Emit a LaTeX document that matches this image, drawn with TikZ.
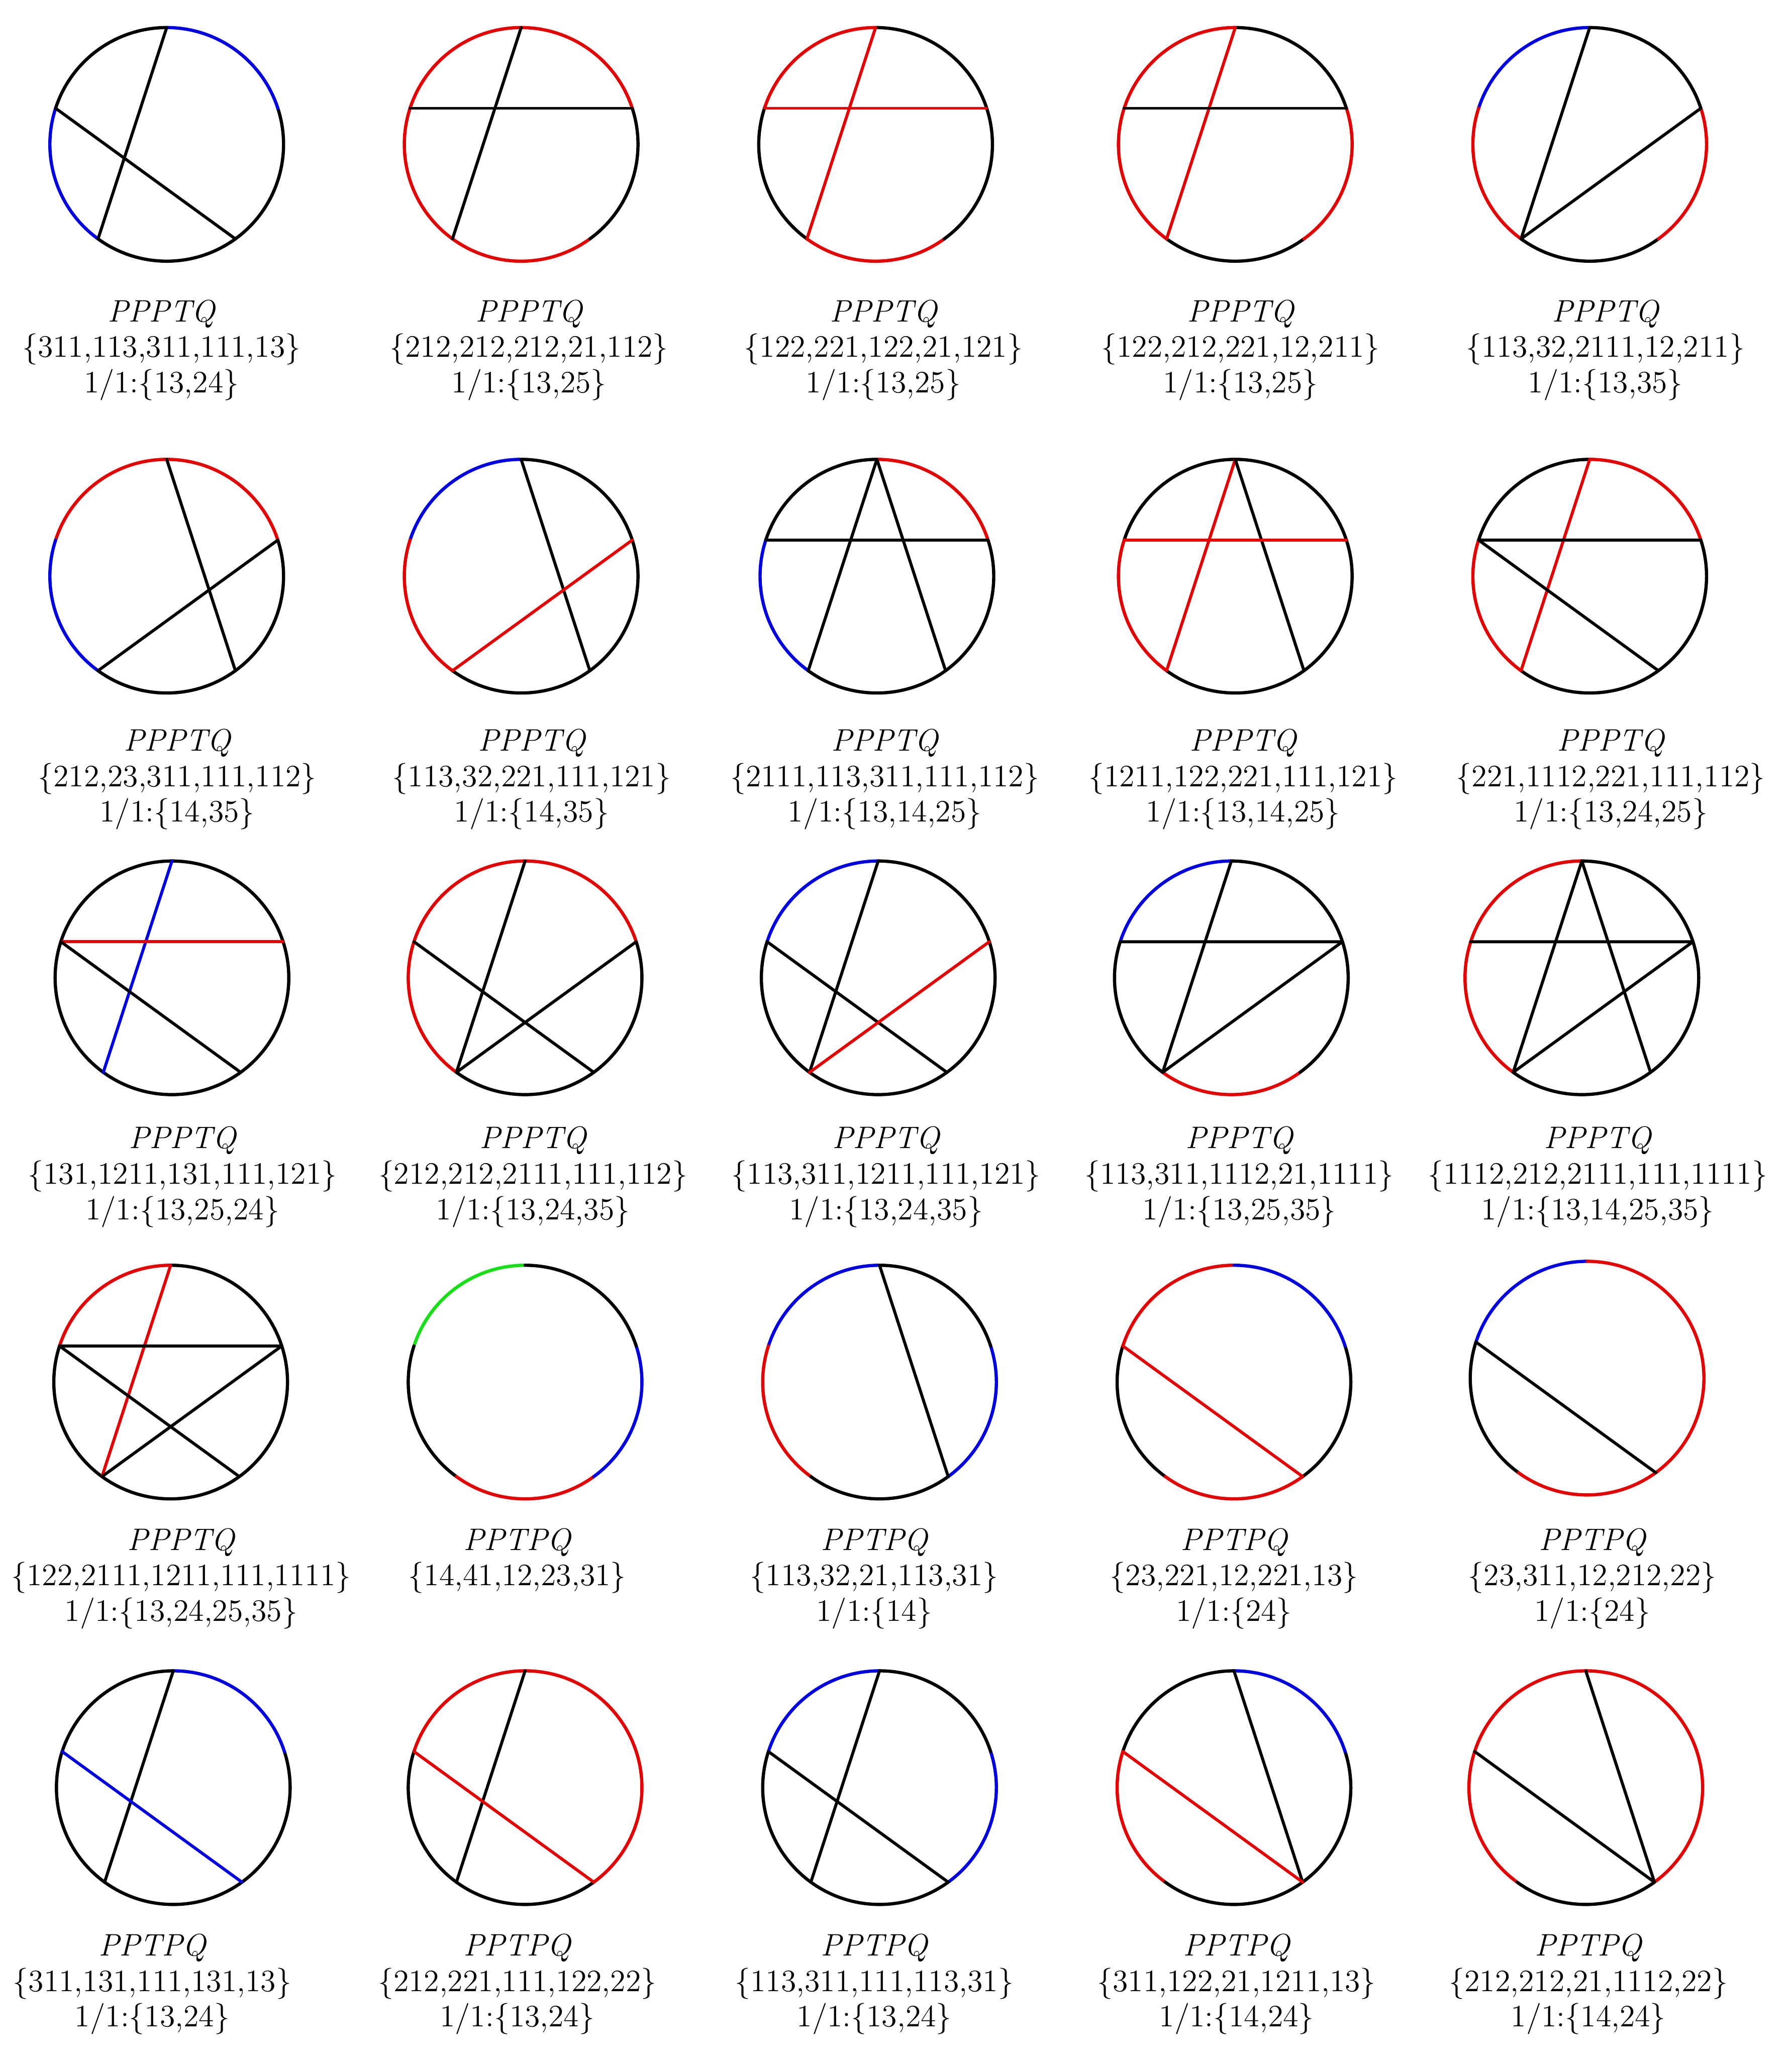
\documentclass[tikz,border=0pt]{standalone}
\usetikzlibrary{calc}

\definecolor{arcred}{RGB}{232,0,0}
\definecolor{arcblue}{RGB}{0,0,230}
\definecolor{arcgreen}{RGB}{20,225,20}

\tikzset{
  arcline/.style={line width=1.4pt},
  chord/.style={line width=1.3pt},
  lbl/.style={anchor=north, align=center, inner sep=0pt,
    font=\fontsize{13.5}{15.4}\selectfont},
}

\newcommand{\cdrad}{89}
% circle with points 1..5 (top, then anticlockwise) and arcs 12,23,34,45,51
\newcommand{\chordring}[6]{%
  \foreach \k/\ang in {1/90,2/162,3/234,4/306,5/18}
    \coordinate (#1-\k) at ($(#1)+(\ang:\cdrad)$);
  \draw[arcline,#2] (#1-1) arc[start angle=90,end angle=162,radius=\cdrad];
  \draw[arcline,#3] (#1-2) arc[start angle=162,end angle=234,radius=\cdrad];
  \draw[arcline,#4] (#1-3) arc[start angle=234,end angle=306,radius=\cdrad];
  \draw[arcline,#5] (#1-4) arc[start angle=306,end angle=378,radius=\cdrad];
  \draw[arcline,#6] (#1-5) arc[start angle=18,end angle=90,radius=\cdrad];
}

\begin{document}
\begin{tikzpicture}[x=0.02cm, y=0.02cm, line join=round, line cap=round]
  \useasboundingbox (0,0) rectangle (1365,-1568);

  % Centres
  \coordinate (D11) at (127,-110);  \coordinate (D12) at (397,-110);
  \coordinate (D13) at (667,-110);  \coordinate (D14) at (941,-110);
  \coordinate (D15) at (1211,-110);
  \coordinate (D21) at (127,-439);  \coordinate (D22) at (397,-439);
  \coordinate (D23) at (668,-439);  \coordinate (D24) at (941,-439);
  \coordinate (D25) at (1211,-439);
  \coordinate (D31) at (131,-745);  \coordinate (D32) at (400,-745);
  \coordinate (D33) at (669,-745);  \coordinate (D34) at (938,-745);
  \coordinate (D35) at (1205,-745);
  \coordinate (D41) at (130,-1053); \coordinate (D42) at (400,-1053);
  \coordinate (D43) at (670,-1053); \coordinate (D44) at (940,-1053);
  \coordinate (D45) at (1209,-1050);
  \coordinate (D51) at (132,-1362); \coordinate (D52) at (400,-1362);
  \coordinate (D53) at (670,-1362); \coordinate (D54) at (940,-1362);
  \coordinate (D55) at (1208,-1362);

  % Row 1
  \chordring{D11}{black}{arcblue}{black}{black}{arcblue}
  \draw[chord] (D11-1) -- (D11-3);
  \draw[chord] (D11-2) -- (D11-4);
  \chordring{D12}{arcred}{arcred}{arcred}{black}{arcred}
  \draw[chord] (D12-1) -- (D12-3);
  \draw[chord] (D12-2) -- (D12-5);
  \chordring{D13}{arcred}{black}{arcred}{black}{black}
  \draw[chord,arcred] (D13-1) -- (D13-3);
  \draw[chord,arcred] (D13-2) -- (D13-5);
  \chordring{D14}{arcred}{arcred}{black}{arcred}{black}
  \draw[chord,arcred] (D14-1) -- (D14-3);
  \draw[chord] (D14-2) -- (D14-5);
  \chordring{D15}{arcblue}{arcred}{black}{arcred}{black}
  \draw[chord] (D15-1) -- (D15-3);
  \draw[chord] (D15-3) -- (D15-5);

  % Row 2
  \chordring{D21}{arcred}{arcblue}{black}{black}{arcred}
  \draw[chord] (D21-1) -- (D21-4);
  \draw[chord] (D21-3) -- (D21-5);
  \chordring{D22}{arcblue}{arcred}{black}{black}{black}
  \draw[chord] (D22-1) -- (D22-4);
  \draw[chord,arcred] (D22-3) -- (D22-5);
  \chordring{D23}{black}{arcblue}{black}{black}{arcred}
  \draw[chord] (D23-3) -- (D23-1) -- (D23-4);
  \draw[chord] (D23-2) -- (D23-5);
  \chordring{D24}{black}{arcred}{black}{black}{black}
  \draw[chord,arcred] (D24-1) -- (D24-3);
  \draw[chord] (D24-1) -- (D24-4);
  \draw[chord,arcred] (D24-2) -- (D24-5);
  \chordring{D25}{black}{arcred}{black}{black}{arcred}
  \draw[chord,arcred] (D25-1) -- (D25-3);
  \draw[chord] (D25-4) -- (D25-2) -- (D25-5);

  % Row 3
  \chordring{D31}{black}{black}{black}{black}{black}
  \draw[chord,arcblue] (D31-1) -- (D31-3);
  \draw[chord,arcred] (D31-2) -- (D31-5);
  \draw[chord] (D31-2) -- (D31-4);
  \chordring{D32}{arcred}{arcred}{black}{black}{arcred}
  \draw[chord] (D32-1) -- (D32-3) -- (D32-5);
  \draw[chord] (D32-2) -- (D32-4);
  \chordring{D33}{arcblue}{black}{black}{black}{black}
  \draw[chord] (D33-1) -- (D33-3);
  \draw[chord] (D33-2) -- (D33-4);
  \draw[chord,arcred] (D33-3) -- (D33-5);
  \chordring{D34}{arcblue}{black}{arcred}{black}{black}
  \draw[chord] (D34-1) -- (D34-3) -- (D34-5) -- (D34-2);
  \chordring{D35}{arcred}{arcred}{black}{black}{black}
  \draw[chord] (D35-4) -- (D35-1) -- (D35-3) -- (D35-5) -- (D35-2);

  % Row 4
  \chordring{D41}{arcred}{black}{black}{black}{black}
  \draw[chord,arcred] (D41-1) -- (D41-3);
  \draw[chord] (D41-4) -- (D41-2) -- (D41-5) -- (D41-3);
  \chordring{D42}{arcgreen}{black}{arcred}{arcblue}{black}
  \chordring{D43}{arcblue}{arcred}{black}{arcblue}{black}
  \draw[chord] (D43-1) -- (D43-4);
  \chordring{D44}{arcred}{black}{arcred}{black}{arcblue}
  \draw[chord,arcred] (D44-2) -- (D44-4);
  \chordring{D45}{arcblue}{black}{arcred}{arcred}{arcred}
  \draw[chord] (D45-2) -- (D45-4);

  % Row 5
  \chordring{D51}{black}{black}{black}{black}{arcblue}
  \draw[chord] (D51-1) -- (D51-3);
  \draw[chord,arcblue] (D51-2) -- (D51-4);
  \chordring{D52}{arcred}{black}{black}{arcred}{arcred}
  \draw[chord] (D52-1) -- (D52-3);
  \draw[chord,arcred] (D52-2) -- (D52-4);
  \chordring{D53}{arcblue}{black}{black}{arcblue}{black}
  \draw[chord] (D53-1) -- (D53-3);
  \draw[chord] (D53-2) -- (D53-4);
  \chordring{D54}{black}{arcred}{black}{black}{arcblue}
  \draw[chord] (D54-1) -- (D54-4);
  \draw[chord,arcred] (D54-2) -- (D54-4);
  \chordring{D55}{arcred}{arcred}{black}{arcred}{arcred}
  \draw[chord] (D55-1) -- (D55-4) -- (D55-2);

  % Labels
  \node[lbl] (D11-t) at ($(D11)+(-4,-118)$) {\itshape PPPTQ\\\{311,113,311,111,13\}\\1/1:\{13,24\}};
  \node[lbl] (D12-t) at ($(D12)+(6,-118)$) {\itshape PPPTQ\\\{212,212,212,21,112\}\\1/1:\{13,25\}};
  \node[lbl] (D13-t) at ($(D13)+(6,-118)$) {\itshape PPPTQ\\\{122,221,122,21,121\}\\1/1:\{13,25\}};
  \node[lbl] (D14-t) at ($(D14)+(4,-118)$) {\itshape PPPTQ\\\{122,212,221,12,211\}\\1/1:\{13,25\}};
  \node[lbl] (D15-t) at ($(D15)+(12,-118)$) {\itshape PPPTQ\\\{113,32,2111,12,211\}\\1/1:\{13,35\}};

  \node[lbl] (D21-t) at ($(D21)+(8,-116)$) {\itshape PPPTQ\\\{212,23,311,111,112\}\\1/1:\{14,35\}};
  \node[lbl] (D22-t) at ($(D22)+(8,-116)$) {\itshape PPPTQ\\\{113,32,221,111,121\}\\1/1:\{14,35\}};
  \node[lbl] (D23-t) at ($(D23)+(6,-116)$) {\itshape PPPTQ\\\{2111,113,311,111,112\}\\1/1:\{13,14,25\}};
  \node[lbl] (D24-t) at ($(D24)+(6,-116)$) {\itshape PPPTQ\\\{1211,122,221,111,121\}\\1/1:\{13,14,25\}};
  \node[lbl] (D25-t) at ($(D25)+(16,-116)$) {\itshape PPPTQ\\\{221,1112,221,111,112\}\\1/1:\{13,24,25\}};

  \node[lbl] (D31-t) at ($(D31)+(8,-113)$) {\itshape PPPTQ\\\{131,1211,131,111,121\}\\1/1:\{13,25,24\}};
  \node[lbl] (D32-t) at ($(D32)+(6,-113)$) {\itshape PPPTQ\\\{212,212,2111,111,112\}\\1/1:\{13,24,35\}};
  \node[lbl] (D33-t) at ($(D33)+(6,-113)$) {\itshape PPPTQ\\\{113,311,1211,111,121\}\\1/1:\{13,24,35\}};
  \node[lbl] (D34-t) at ($(D34)+(6,-113)$) {\itshape PPPTQ\\\{113,311,1112,21,1111\}\\1/1:\{13,25,35\}};
  \node[lbl] (D35-t) at ($(D35)+(12,-113)$) {\itshape PPPTQ\\\{1112,212,2111,111,1111\}\\1/1:\{13,14,25,35\}};

  \node[lbl] (D41-t) at ($(D41)+(8,-111)$) {\itshape PPPTQ\\\{122,2111,1211,111,1111\}\\1/1:\{13,24,25,35\}};
  \node[lbl] (D42-t) at ($(D42)+(-6,-111)$) {\itshape PPTPQ\\\{14,41,12,23,31\}};
  \node[lbl] (D43-t) at ($(D43)+(-4,-111)$) {\itshape PPTPQ\\\{113,32,21,113,31\}\\1/1:\{14\}};
  \node[lbl] (D44-t) at ($(D44)+(0,-111)$) {\itshape PPTPQ\\\{23,221,12,221,13\}\\1/1:\{24\}};
  \node[lbl] (D45-t) at ($(D45)+(4,-114)$) {\itshape PPTPQ\\\{23,311,12,212,22\}\\1/1:\{24\}};

  \node[lbl] (D51-t) at ($(D51)+(-16,-111)$) {\itshape PPTPQ\\\{311,131,111,131,13\}\\1/1:\{13,24\}};
  \node[lbl] (D52-t) at ($(D52)+(-6,-111)$) {\itshape PPTPQ\\\{212,221,111,122,22\}\\1/1:\{13,24\}};
  \node[lbl] (D53-t) at ($(D53)+(-4,-111)$) {\itshape PPTPQ\\\{113,311,111,113,31\}\\1/1:\{13,24\}};
  \node[lbl] (D54-t) at ($(D54)+(2,-111)$) {\itshape PPTPQ\\\{311,122,21,1211,13\}\\1/1:\{14,24\}};
  \node[lbl] (D55-t) at ($(D55)+(2,-111)$) {\itshape PPTPQ\\\{212,212,21,1112,22\}\\1/1:\{14,24\}};
\end{tikzpicture}
\end{document}
